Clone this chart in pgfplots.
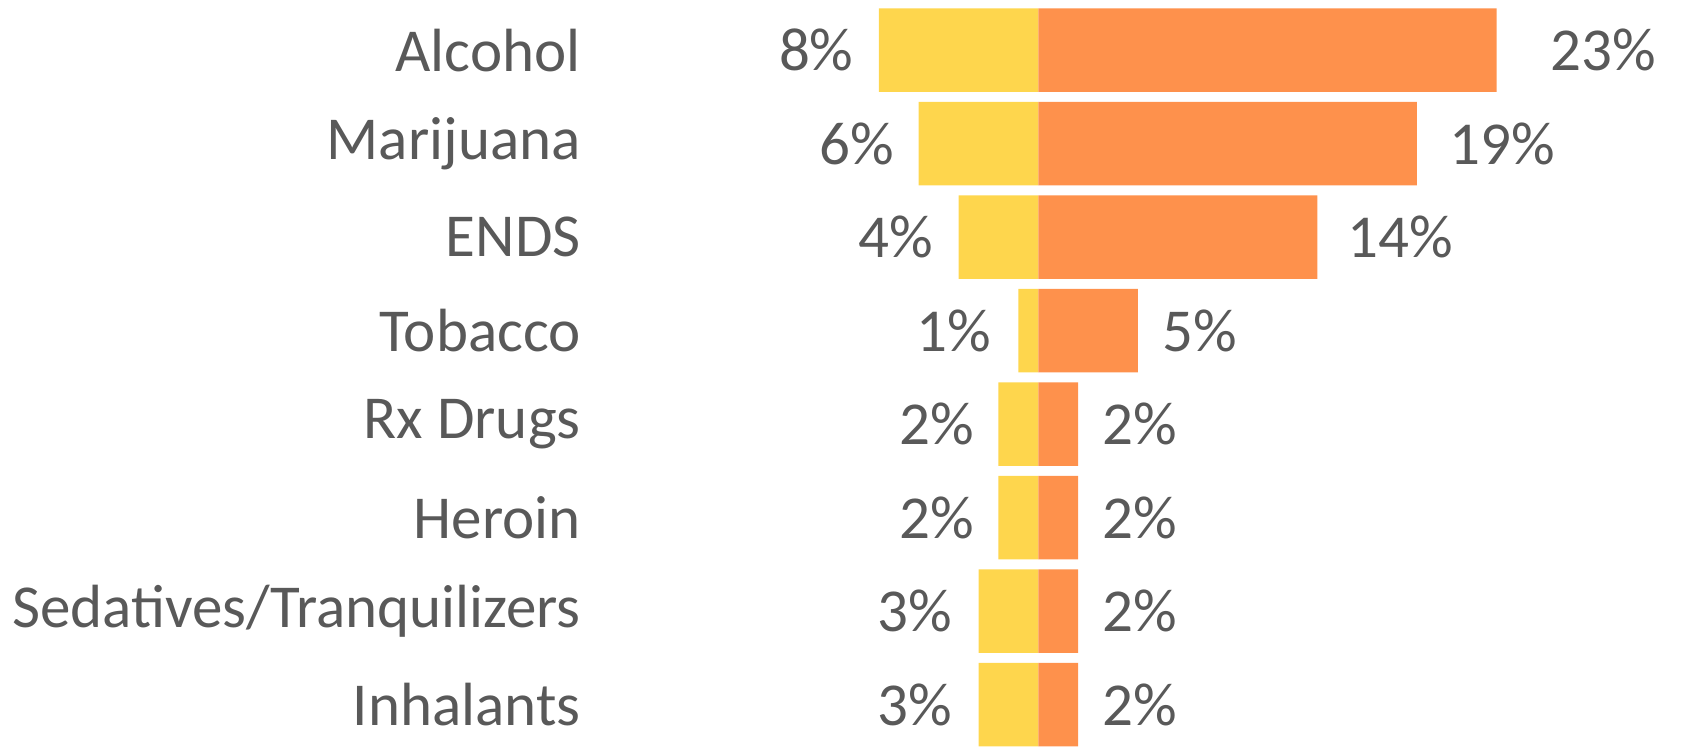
\documentclass[border=0pt]{standalone}
\usepackage{pgfplots}
\pgfplotsset{compat=1.18}
\usepackage{pgfplotstable}
\usepackage{fontspec}
\setmainfont{Carlito}
\definecolor{ylw}{RGB}{254,214,77}
\definecolor{org}{RGB}{254,145,76}
\definecolor{txt}{RGB}{89,89,89}
\pgfplotstableread{
y neg pos lx lv rx rv
0 -8 23 -9.25 8 25.7 23
1 -6 19 -7.2 6 20.6 19
2 -4 14 -5.25 4 15.5 14
3 -1 5 -2.33 1 6.2 5
4 -2 2 -3.2 2 3.2 2
5 -2 2 -3.2 2 3.2 2
6 -3 2 -4.3 3 3.2 2
7 -3 2 -4.3 3 3.2 2
}\data
\begin{document}
\begin{tikzpicture}
\begin{axis}[
  scale only axis,
  width=843.5pt, height=373.5pt,
  xmin=-52.1, xmax=32.55,
  ymin=-0.537, ymax=7.452,
  y dir=reverse,
  axis line style={draw=none},
  tick style={draw=none},
  xtick=\empty,
  ytick={0,...,7},
  yticklabels={Alcohol,Marijuana,ENDS,Tobacco,Rx Drugs,Heroin,Sedatives/Tranquilizers,Inhalants},
  yticklabel style={anchor=east, inner sep=0pt, xshift=290.5pt, font=\fontsize{30.5}{36}\selectfont, text=txt},
  every node near coord/.append style={font=\fontsize{30.5}{36}\selectfont, text=txt, inner sep=0pt},
]
\addplot[xbar, bar shift=0pt, bar width=0.893, fill=ylw, draw=none] table[x=neg, y=y]{\data};
\addplot[xbar, bar shift=0pt, bar width=0.893, fill=org, draw=none] table[x=pos, y=y]{\data};
\addplot[draw=none, mark=none, point meta=explicit symbolic,
  nodes near coords={\pgfplotspointmeta\%},
  nodes near coords style={anchor=east}] table[x=lx, y=y, meta=lv]{\data};
\addplot[draw=none, mark=none, point meta=explicit symbolic,
  nodes near coords={\pgfplotspointmeta\%},
  nodes near coords style={anchor=west}] table[x=rx, y=y, meta=rv]{\data};
\end{axis}
\end{tikzpicture}
\end{document}
